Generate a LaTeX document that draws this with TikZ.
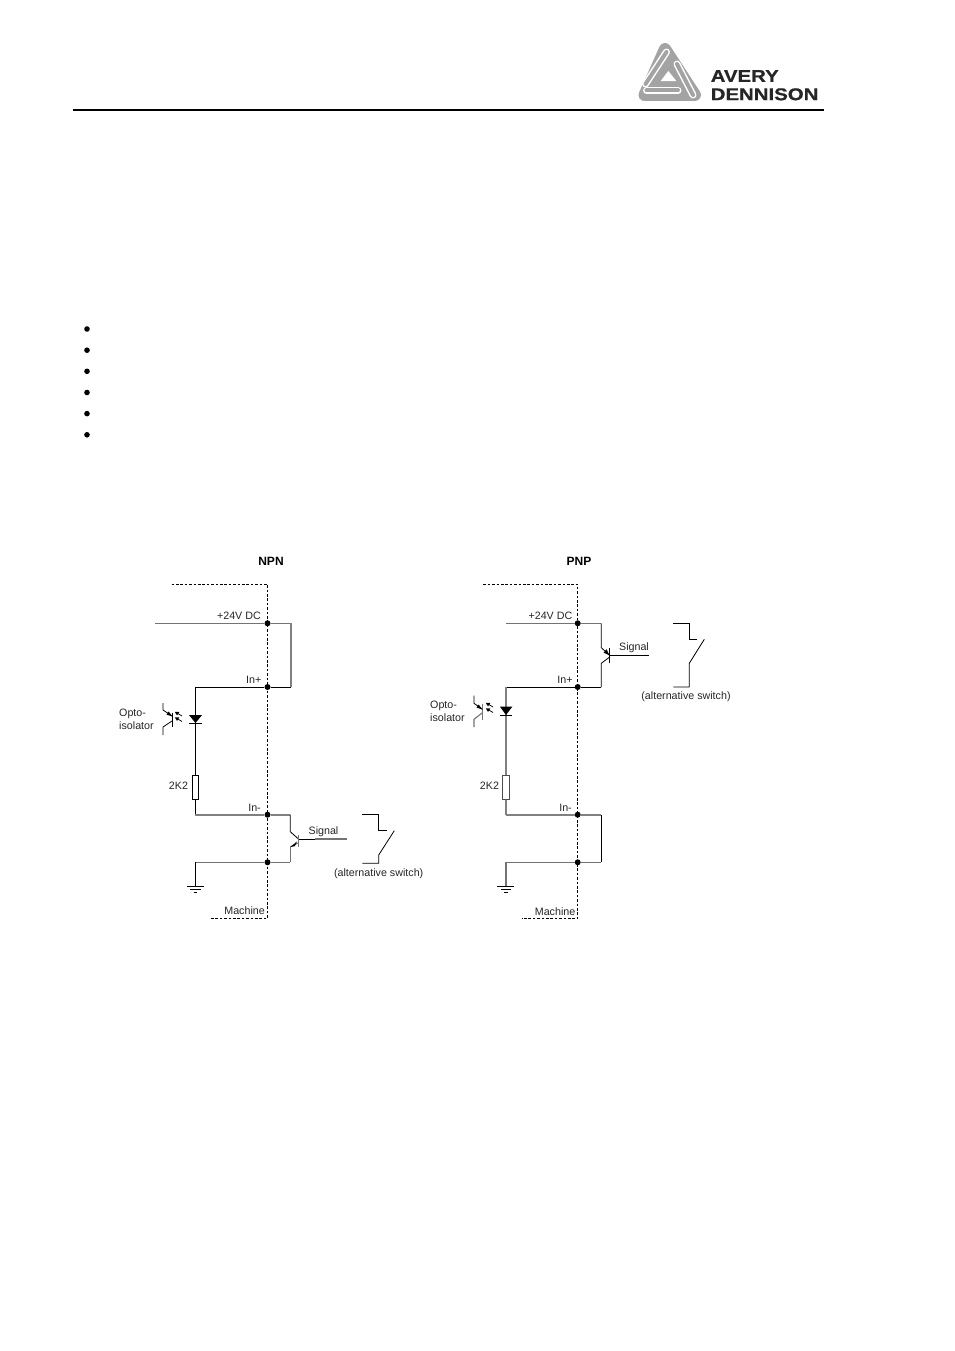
\documentclass[tikz,border=0pt]{standalone}
\usepackage{fontspec}
\setmainfont{Liberation Sans}
\newfontfamily\logofont[FakeBold=0.6]{Liberation Sans Bold}
\begin{document}
\begin{tikzpicture}[x=1pt,y=-1pt,
  wk/.style={draw=black,line width=0.8pt},
  wg/.style={draw=black!55,line width=1.1pt},
  wgt/.style={draw=black!50,line width=1.7pt},
  bound/.style={draw=black,line width=0.9pt,dash pattern=on 2.6pt off 1.8pt},
  junct/.style={circle,fill=black,inner sep=0pt,minimum size=6pt},
  lbl/.style={font=\fontsize{10.7}{12.6}\selectfont,text=black!85,inner sep=0pt},
  lblr/.style={lbl,anchor=east},
  lbll/.style={lbl,anchor=west},
  title/.style={font=\fontsize{12}{14}\selectfont\bfseries,inner sep=0pt},
  bullet/.style={circle,fill=black,inner sep=0pt,minimum size=5.6pt},
  logotext/.style={font=\fontsize{17}{17}\logofont,text=black!85,inner sep=0pt,anchor=west,xscale=1.2},
  pill/.style={line cap=round},
  res/.style={draw=black,fill=white,line width=0.8pt,minimum width=6.4pt,minimum height=24pt,inner sep=0pt,rectangle},
  tip/.style={fill=black,draw=none}]
\useasboundingbox (0,0) rectangle (954,1351);
\fill[white] (0,0) rectangle (954,1351);

% header
\coordinate (ruleL) at (73,110); \coordinate (ruleR) at (824,110);
\draw[line width=1.9pt] (ruleL) -- (ruleR);

% logo
\fill[black!36,draw=black!36,line width=12pt,line join=round] (665,49) -- (644.5,95) -- (695,95) -- cycle;
\foreach \a/\b in {{(666.5,52)}/{(645.5,84)},{(646.5,90.5)}/{(678,90.5)},{(677,64)}/{(693,95)}}{
  \draw[white,line width=7pt,pill] \a -- \b;
  \draw[black!36,line width=4pt,pill] \a -- \b;
}
\fill[white] (668.3,71) -- (660.5,81.2) -- (676.5,81.2) -- cycle;
\node[logotext] (avery) at (710.5,76) {AVERY};
\node[logotext] (dennison) at (710.5,94.3) {DENNISON};

% bullets
\foreach \n/\y in {1/329,2/350.2,3/371.3,4/392.5,5/413.6,6/434.8}
  \node[bullet] (b\n) at (87,\y) {};

% ---------- NPN ----------
\node[title] (npnT) at (271,561.5) {NPN};
\coordinate (nB1) at (171.5,584.3); \coordinate (nB2) at (267.5,584.3);
\coordinate (nB3) at (267.5,918.3); \coordinate (nB4) at (211,918.3);
\draw[bound] (nB1) -- (nB2) -- (nB3) -- (nB4);

\node[junct] (nJ1) at (267.5,623.3) {};
\node[junct] (nJ2) at (267.5,687) {};
\node[junct] (nJ3) at (267.5,814.7) {};
\node[junct] (nJ4) at (267.5,862.3) {};
\coordinate (nS) at (155,623.3);
\coordinate (nR1) at (291,623.3);
\coordinate (nR2) at (291,687);
\coordinate (nA) at (195.3,687);
\coordinate (nC) at (195.3,814.7);
\coordinate (nE) at (195.3,862.3);
\coordinate (nG) at (195.3,886);
\coordinate (nT1) at (290.3,814.7);
\coordinate (nT2) at (290.3,862.3);
\draw[wg] (nS) -- (nJ1) -- (nR1);
\draw[wgt] (nR1) -- (nR2);
\draw[wk] (nR2) -- (nJ2) -- (nA) -- (nC);
\draw[wgt] (nC) -- (nJ3) -- (nT1);
\draw[wg] (nE) -- (nJ4) -- (nT2);
\draw[wk] (nE) -- (nG);
\node[res] (nRes) at (195.3,787.3) {};
% diode
\fill (189,715) -- (202,715) -- (195.5,723) -- cycle;
\draw[wk] (189,723) -- (202,723);
% ground
\draw[wk] (186.7,886) -- (204,886) (190,889.3) -- (200.5,889.3) (193.5,892.6) -- (197,892.6);
% opto
\draw[wk] (172,713) -- (172,727);
\draw[wk] (163,703) -- (163,710) -- (172,716);
\fill (172.5,716.5) -- (166.5,714.6) -- (168.6,711.5) -- cycle;
\draw[wk] (163,735) -- (163,727) -- (172,721);
\foreach \y in {0,5.5}{
  \draw[line width=0.7pt] (182,716+\y) -- (177,713+\y);
  \fill (174.8,711.8+\y) -- (179.4,712+\y) -- (177,715.4+\y) -- cycle;
}
% NPN transistor
\draw[wk] (nT1) -- (290.3,831.7) -- (298.5,839);
\draw[wg] (298.5,835) -- (298.5,847);
\coordinate (nSig) at (346.7,839);
\draw[wk] (298.5,839) -- (315,839);
\draw[wg] (315,839) -- (nSig);
\draw[wg] (298,843) -- (290.3,846.7);
\draw[wg] (290.3,846.7) -- (nT2);
\fill (290.5,847) -- (297,841.4) -- (294.8,846.2) -- cycle;
% NPN switch
\coordinate (nw1) at (362.3,814.7); \coordinate (nw2) at (378.7,814.7);
\coordinate (nw3) at (378.7,830.7); \coordinate (nw4) at (386.7,830.7);
\coordinate (nw5) at (394.3,830.7); \coordinate (nw6) at (378.7,855);
\coordinate (nw7) at (378.7,863.3); \coordinate (nw8) at (362.3,863.3);
\draw[wk] (nw1) -- (nw2) -- (nw3) -- (nw4);
\draw[wk] (nw5) -- (nw6) -- (nw7) -- (nw8);

\node[lblr] (n24) at (261,616) {+24V DC};
\node[lblr] (nIp) at (261.5,680) {In+};
\node[lblr] (nIm) at (261,807.5) {In-};
\node[lblr] (nMa) at (265,910.8) {Machine};
\node[lbl] (n2k) at (178.5,786) {2K2};
\node[lbl] (nSg) at (323.5,831.5) {Signal};
\node[lbl] (nAlt) at (378.7,873.5) {(alternative switch)};
\node[lbll] (nOp1) at (119,713.5) {Opto-};
\node[lbll] (nOp2) at (119,725.5) {isolator};

% ---------- PNP ----------
\node[title] (pnpT) at (579,561.5) {PNP};
\coordinate (pB1) at (483.3,584.3); \coordinate (pB2) at (577.7,584.3);
\coordinate (pB3) at (577.7,918.3); \coordinate (pB4) at (521.7,918.3);
\draw[bound] (pB1) -- (pB2) -- (pB3) -- (pB4);

\node[junct] (pJ1) at (577.7,623.3) {};
\node[junct] (pJ2) at (577.7,687) {};
\node[junct] (pJ3) at (577.7,814.7) {};
\node[junct] (pJ4) at (577.7,862.3) {};
\coordinate (pS) at (506,623.3);
\coordinate (pT1) at (601.3,623.3);
\coordinate (pT2) at (601.3,687);
\coordinate (pA) at (506,687);
\coordinate (pC) at (506,814.7);
\coordinate (pE) at (506,862.3);
\coordinate (pG) at (506,886);
\coordinate (pR1) at (601.3,814.7);
\coordinate (pR2) at (601.3,862.3);
\draw[wg] (pS) -- (pJ1) -- (pT1);
\draw[wk] (pT2) -- (pJ2) -- (pA);
\draw[wgt] (pA) -- (pC);
\draw[wgt] (pC) -- (pJ3) -- (pR1);
\draw[wk] (pR1) -- (pR2);
\draw[wg] (pR2) -- (pJ4) -- (pE);
\draw[wg] (pE) -- (pG);
\node[res,draw=black!70] (pRes) at (506,787) {};
% diode
\fill (500,706.7) -- (512.3,706.7) -- (506,715) -- cycle;
\draw[wk] (500,715) -- (512.3,715);
% ground
\draw[wk] (497.3,886) -- (514.3,886) (501,889.3) -- (511,889.3) (504.3,892.6) -- (507.8,892.6);
% opto
\draw[wg] (482.3,704) -- (482.3,720);
\draw[wk] (474,695.7) -- (474,703.3) -- (482,709);
\fill (482.5,709.5) -- (476.5,707.6) -- (478.6,704.5) -- cycle;
\draw[wg] (474,727) -- (474,719.3) -- (482,713);
\foreach \y in {0,5.5}{
  \draw[line width=0.7pt] (493,707+\y) -- (488,704+\y);
  \fill (485.8,702.8+\y) -- (490.4,703+\y) -- (488,706.4+\y) -- cycle;
}
% PNP transistor
\draw[wk] (pT1) -- (601.3,647.7) -- (609.3,655);
\fill (609.3,655.3) -- (603.6,652.6) -- (606.6,649.2) -- cycle;
\draw[wk] (609.5,648) -- (609.5,662.6);
\coordinate (pSig) at (649.3,655.3);
\draw[wk] (609.5,655.3) -- (pSig);
\draw[wk] (609,657.5) -- (601.3,663.3) -- (pT2);
% PNP switch
\coordinate (pw1) at (673.3,623.3); \coordinate (pw2) at (689.3,623.3);
\coordinate (pw3) at (689.3,639.3); \coordinate (pw4) at (696.7,639.3);
\coordinate (pw5) at (704.3,639.3); \coordinate (pw6) at (689.3,663.3);
\coordinate (pw7) at (689.3,687); \coordinate (pw8) at (673.3,687);
\draw[wk] (pw1) -- (pw2) -- (pw3) -- (pw4);
\draw[wk] (pw5) -- (pw6) -- (pw7) -- (pw8);

\node[lblr] (p24) at (572.5,615.7) {+24V DC};
\node[lblr] (pIp) at (572.8,680) {In+};
\node[lblr] (pIm) at (572,807.5) {In-};
\node[lblr] (pMa) at (575.5,911.3) {Machine};
\node[lbl] (p2k) at (489.5,786) {2K2};
\node[lbl] (pSg) at (634,648) {Signal};
\node[lbl] (pAlt) at (686,696.7) {(alternative switch)};
\node[lbll] (pOp1) at (430,705.5) {Opto-};
\node[lbll] (pOp2) at (430,717.5) {isolator};
\end{tikzpicture}
\end{document}
